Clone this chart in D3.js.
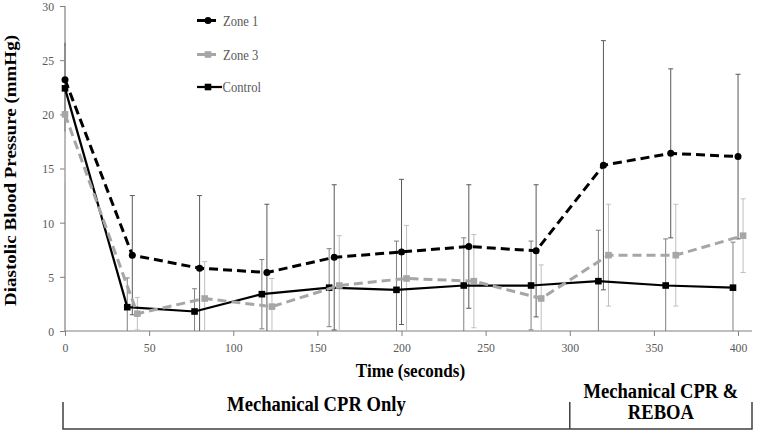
<!DOCTYPE html>
<html>
<head>
<meta charset="utf-8">
<script src="https://cdn.jsdelivr.net/npm/d3@7"></script>
<style>
  html, body { margin: 0; padding: 0; background: #fff; }
  svg { display: block; }
  text { font-family: "Liberation Serif", "Times New Roman", serif; }
</style>
</head>
<body>
<div id="chart"></div>
<script>
// ---- data ----
const zone1Time   = [0, 40, 80, 120, 160, 200, 240, 280, 320, 360, 400];
const zone1       = [23.2, 7.0, 5.8, 5.4, 6.8, 7.3, 7.8, 7.4, 15.3, 16.4, 16.1];
const zone1Err    = [3.4, 5.5, 6.7, 6.3, 6.7, 6.7, 5.7, 6.1, 11.5, 7.8, 7.6];

const zone3Time   = [0, 43, 83, 123, 163, 203, 243, 283, 323, 363, 403];
const zone3       = [20.0, 1.6, 3.0, 2.25, 4.2, 4.85, 4.6, 3.0, 7.0, 7.0, 8.8];
const zone3Err    = [6.3, 1.5, 3.4, 2.6, 4.6, 4.9, 4.3, 3.1, 4.7, 4.7, 3.4];

const controlTime = [0, 37, 77, 117, 157, 197, 237, 277, 317, 357, 397];
const control     = [22.4, 2.2, 1.8, 3.4, 4.0, 3.8, 4.2, 4.2, 4.6, 4.2, 4.0];
const controlErr  = [4.0, 2.7, 2.1, 3.2, 3.6, 4.5, 4.4, 4.1, 4.7, 4.3, 4.2];

const xTicks = [0, 50, 100, 150, 200, 250, 300, 350, 400];
const yTicks = [0, 5, 10, 15, 20, 25, 30];
const seriesNames = ["Zone 1", "Zone 3", "Control"];
const phaseLabels = ["Mechanical CPR Only", "Mechanical CPR &", "REBOA"];
const phaseBreaks = [0, 300];
const yTitle = "Diastolic Blood Pressure (mmHg)";
const xTitle = "Time (seconds)";

// ---- layout ----
const W = 757, H = 432;
const svg = d3.select("#chart").append("svg").attr("width", W).attr("height", H);

const x = d3.scaleLinear().domain([0, 408.3]).range([65, 752]);
const y = d3.scaleLinear().domain([0, 30]).range([331, 6]);

const axisColor = "#808080";
const labelColor = "#595959";
const squeeze = 0.87;   // the reference's serif text is slightly condensed

svg.append("defs").append("clipPath").attr("id", "plotclip")
  .append("rect").attr("x", 60).attr("y", y(30)).attr("width", 700).attr("height", y(0) - y(30));

// axes
const yAxis = svg.append("g").attr("transform", `translate(${x(0)},0)`)
  .call(d3.axisLeft(y).tickValues(yTicks).tickSize(5).tickPadding(4).tickFormat(d3.format("d")));
const xAxis = svg.append("g").attr("transform", `translate(0,${y(0)})`)
  .call(d3.axisBottom(x).tickValues(xTicks).tickSize(5).tickPadding(6).tickFormat(d3.format("d")));
[yAxis, xAxis].forEach(g => {
  g.select(".domain").attr("stroke", axisColor).attr("stroke-width", 1.2);
  g.selectAll(".tick line").attr("stroke", axisColor).attr("stroke-width", 1);
  g.selectAll(".tick text").attr("fill", labelColor).attr("font-size", 13.5)
    .attr("font-family", "Liberation Serif, serif");
});
xAxis.selectAll(".tick text").attr("transform", `scale(${squeeze},1)`).attr("dy", "0.72em");
yAxis.selectAll(".tick text").attr("x", -11 / squeeze).attr("transform", `scale(${squeeze},1)`);
xAxis.select(".domain").attr("d", `M${x(0)},0H${x.range()[1]}`);
yAxis.select(".domain").attr("d", `M0,${y(30)}V${y(0)}`);

// series definitions
const series = [
  { name: seriesNames[0], t: zone1Time, v: zone1, e: zone1Err, color: "#000", errColor: "#595959",
    dash: "9,5", width: 3, marker: "circle" },
  { name: seriesNames[1], t: zone3Time, v: zone3, e: zone3Err, color: "#a6a6a6", errColor: "#bfbfbf",
    dash: "9,5", width: 3, marker: "square" },
  { name: seriesNames[2], t: controlTime, v: control, e: controlErr, color: "#000", errColor: "#7f7f7f",
    dash: null, width: 2.25, marker: "square" }
];

const plot = svg.append("g").attr("clip-path", "url(#plotclip)");

// error bars
series.forEach(s => {
  const g = plot.append("g");
  const pts = s.t.map((t, i) => ({ t, v: s.v[i], e: s.e[i] }));
  g.selectAll("line.bar").data(pts).enter().append("line")
    .attr("x1", d => x(d.t)).attr("x2", d => x(d.t))
    .attr("y1", d => y(d.v + d.e)).attr("y2", d => y(Math.max(d.v - d.e, -1)))
    .attr("stroke", s.errColor).attr("stroke-width", 1);
  g.selectAll("line.capT").data(pts.filter(d => d.t > 0)).enter().append("line")
    .attr("x1", d => x(d.t) - 2.5).attr("x2", d => x(d.t) + 2.5)
    .attr("y1", d => y(d.v + d.e)).attr("y2", d => y(d.v + d.e))
    .attr("stroke", s.errColor).attr("stroke-width", 1);
  g.selectAll("line.capB").data(pts.filter(d => d.t > 0 && d.v - d.e > 0)).enter().append("line")
    .attr("x1", d => x(d.t) - 2.5).attr("x2", d => x(d.t) + 2.5)
    .attr("y1", d => y(d.v - d.e)).attr("y2", d => y(d.v - d.e))
    .attr("stroke", s.errColor).attr("stroke-width", 1);
});

// lines & markers
const line = d3.line().x(d => x(d.t)).y(d => y(d.v));
function drawMarker(g, type, cx, cy, color) {
  if (type === "circle") {
    g.append("circle").attr("cx", cx).attr("cy", cy).attr("r", 3.5).attr("fill", color);
  } else {
    g.append("rect").attr("x", cx - 3.3).attr("y", cy - 3.3).attr("width", 6.6).attr("height", 6.6).attr("fill", color);
  }
}
series.slice().reverse().forEach(s => {
  const pts = s.t.map((t, i) => ({ t, v: s.v[i] }));
  const g = svg.append("g");
  g.append("path").datum(pts).attr("d", line).attr("fill", "none")
    .attr("stroke", s.color).attr("stroke-width", s.width)
    .attr("stroke-dasharray", s.dash).attr("stroke-linejoin", "round");
  pts.forEach(d => drawMarker(g, s.marker, x(d.t), y(d.v), s.color));
});

// legend
const legendY = [20.5, 54.5, 87];
series.forEach((s, i) => {
  const g = svg.append("g").attr("transform", `translate(0,${legendY[i]})`);
  g.append("line").attr("x1", 197).attr("x2", s.dash ? 219 : 222).attr("y1", 0).attr("y2", 0)
    .attr("stroke", s.color).attr("stroke-width", s.width).attr("stroke-dasharray", s.dash ? "8,3" : null);
  drawMarker(g, s.marker, 208, 0, s.color);
  g.append("text").attr("transform", `translate(${s.dash ? 223 : 222.5},5) scale(0.84,1)`)
    .attr("font-size", 15).attr("fill", labelColor).text(s.name);
});

// axis titles
svg.append("text").attr("transform", `translate(16,${(y(0) + y(30)) / 2 + 2}) rotate(-90) scale(1,${squeeze})`)
  .attr("text-anchor", "middle").attr("font-size", 19).attr("font-weight", "bold").attr("fill", "#000")
  .text(yTitle);
svg.append("text").attr("transform", `translate(${(x(0) + x.range()[1]) / 2 + 2},377) scale(0.9,1)`)
  .attr("text-anchor", "middle").attr("font-size", 19).attr("font-weight", "bold").attr("fill", "#000")
  .text(xTitle);

// phase bracket
const bx0 = 63, bx1 = x(phaseBreaks[1]), bx2 = 752, bTop = 402, bBot = 429;
const br = svg.append("g").attr("stroke", "#404040").attr("stroke-width", 1.5).attr("fill", "none");
br.append("path").attr("d", `M${bx0},${bTop}V${bBot}H${bx2}V${bTop}`);
br.append("line").attr("x1", bx1).attr("x2", bx1).attr("y1", bTop).attr("y2", bBot);

function phaseText(cx, cy, str) {
  svg.append("text").attr("transform", `translate(${cx},${cy}) scale(0.93,1)`).attr("text-anchor", "middle")
    .attr("font-size", 20).attr("font-weight", "bold").text(str);
}
phaseText((bx0 + bx1) / 2, 411, phaseLabels[0]);
phaseText((bx1 + bx2) / 2, 398, phaseLabels[1]);
phaseText((bx1 + bx2) / 2, 419, phaseLabels[2]);
</script>
</body>
</html>
